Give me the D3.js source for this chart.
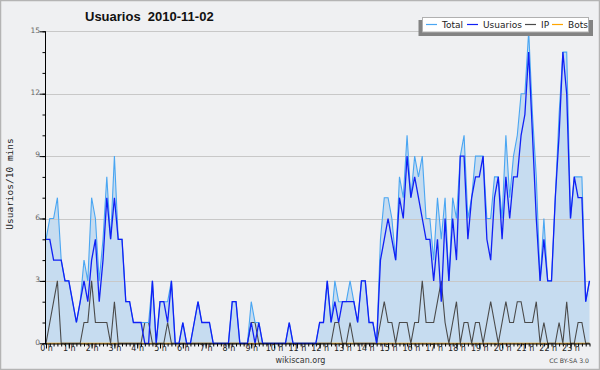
<!DOCTYPE html>
<html><head><meta charset="utf-8">
<script src="https://cdn.jsdelivr.net/npm/d3@7"></script>
<style>body{margin:0;background:#eff0f2}svg{display:block}</style>
</head><body><svg id="c" width="600" height="370"></svg>
<script>
const hourLabels = ["0 h","1 h","2 h","3 h","4 h","5 h","6 h","7 h","8 h","9 h","10 h","11 h","12 h","13 h","14 h","15 h","16 h","17 h","18 h","19 h","20 h","21 h","22 h","23 h"];
const yTickValues = [0,3,6,9,12,15];
const totalData = [5,6,6,7,4,3,3,2,1,2,4,3,7,6,3,5,8,5,9,5,5,2,2,1,1,1,1,1,3,0,2,2,2,3,0,0,1,0,0,1,2,1,1,1,0,0,0,0,0,2,2,0,0,0,2,1,1,0,0,0,0,0,0,0,1,0,0,0,0,0,0,0,1,1,3,1,3,2,2,2,3,2,1,3,3,1,1,0,5,7,7,6,4,8,7,10,7,9,8,9,6,6,4,7,5,7,3,7,6,9,10,6,7,9,9,9,6,6,8,8,6,10,7,9,10,12,12,15,11,8,3,6,3,3,7,11,14,14,6,8,8,8,2,3];
const usuariosData = [5,5,4,4,4,3,3,2,1,2,3,2,4,5,2,4,7,5,7,5,5,2,2,1,1,1,0,0,3,0,2,2,1,3,0,0,1,0,0,1,2,1,1,1,0,0,0,0,0,2,2,0,0,0,1,0,1,0,0,0,0,0,0,0,1,0,0,0,0,0,0,0,1,1,3,1,2,1,2,2,2,2,1,3,3,1,1,0,4,5,6,5,4,7,6,9,7,8,7,6,5,5,3,5,2,6,3,6,4,9,9,5,7,8,8,9,5,4,7,8,5,8,6,8,8,10,11,14,10,6,3,5,3,3,7,10,14,12,6,8,7,7,2,3];
const ipData = [0,1,2,3,0,0,0,0,0,0,1,1,3,1,1,1,1,0,2,0,0,0,0,0,0,0,1,1,0,0,0,0,1,0,0,0,0,0,0,0,0,0,0,0,0,0,0,0,0,0,0,0,0,0,1,1,0,0,0,0,0,0,0,0,0,0,0,0,0,0,0,0,0,0,0,0,1,1,0,0,1,0,0,0,0,0,0,0,1,2,1,1,0,1,1,1,0,1,1,3,1,1,1,2,3,1,0,1,2,0,1,1,0,1,1,0,1,2,1,0,1,2,1,1,2,2,1,1,1,2,0,1,0,0,0,1,0,2,0,0,1,1,0,0];
const botsData = [0,0,0,0,0,0,0,0,0,0,0,0,0,0,0,0,0,0,0,0,0,0,0,0,0,0,0,0,0,0,0,0,0,0,0,0,0,0,0,0,0,0,0,0,0,0,0,0,0,0,0,0,0,0,0,0,0,0,0,0,0,0,0,0,0,0,0,0,0,0,0,0,0,0,0,0,0,0,0,0,0,0,0,0,0,0,0,0,0,0,0,0,0,0,0,0,0,0,0,0,0,0,0,0,0,0,0,0,0,0,0,0,0,0,0,0,0,0,0,0,0,0,0,0,0,0,0,0,0,0,0,0,0,0,0,0,0,0,0,0,0,0,0,0];
const seriesNames = ["Total","Usuarios","IP","Bots"];
const seriesColors = ["#4aa6f2","#1020f5","#4a4a4a","#ffa500"];

const svg = d3.select("#c");
const W = 600, H = 370;
svg.append("rect").attr("x",0.5).attr("y",0.5).attr("width",W-1).attr("height",H-1)
  .attr("fill","#eff0f2").attr("stroke","#b4b4b4").attr("stroke-width",1.5);

const x = d3.scaleLinear().domain([0, totalData.length-1]).range([46, 589.5]);
const y = d3.scaleLinear().domain([0, 15]).range([343.3, 31.3]);

// area fill
svg.append("path").datum(totalData)
  .attr("d", d3.area().x((d,i)=>x(i)).y0(y(0)).y1(d=>y(d)))
  .attr("fill","#c6dcf0");

// gridlines
svg.append("g").selectAll("line").data(yTickValues.filter(v=>v>0)).join("line")
  .attr("x1",46).attr("x2",590).attr("y1",d=>Math.round(y(d))+0.5).attr("y2",d=>Math.round(y(d))+0.5)
  .attr("stroke","#c8c8c8").attr("stroke-width",1);

const line = d3.line().x((d,i)=>x(i)).y(d=>y(d));
const allSeries = [totalData, usuariosData, ipData, botsData];
const widths = [1.1, 1.3, 1.1, 1.1];
[3,2,0,1].forEach(k=>{
  svg.append("path").datum(allSeries[k]).attr("d", line)
    .attr("fill","none").attr("stroke", seriesColors[k]).attr("stroke-width", widths[k]);
});

// axes
const gx = svg.append("g").attr("transform","translate(0,343.5)");
gx.call(d3.axisBottom(x).tickValues(d3.range(0,totalData.length)).tickSize(3).tickSizeOuter(0).tickFormat(""));
const gx2 = svg.append("g").attr("transform","translate(0,343.5)");
gx2.call(d3.axisBottom(x).tickValues(d3.range(0,totalData.length,6)).tickSize(5).tickSizeOuter(0).tickFormat((d,i)=>hourLabels[i]));
gx2.select(".domain").remove();
gx.select(".domain").attr("d","M45,0.5H590");
[gx,gx2].forEach(g=>{ g.selectAll("line").attr("stroke","#000"); });
gx2.selectAll("text").attr("font-family","DejaVu Sans").attr("font-size","8px").attr("fill","#222").attr("dy","0.45em").attr("y",4);

const gy = svg.append("g").attr("transform","translate(45.5,0)");
gy.call(d3.axisLeft(y).tickValues(d3.range(0,16)).tickSize(3).tickSizeOuter(0).tickFormat(""));
const gy2 = svg.append("g").attr("transform","translate(45.5,0)");
gy2.call(d3.axisLeft(y).tickValues(yTickValues).tickSize(6).tickSizeOuter(0).tickFormat(d=>d));
gy2.select(".domain").remove();
gy.select(".domain").attr("d","M0,31.3V344");
[gy,gy2].forEach(g=>{ g.selectAll("line").attr("stroke","#000"); g.select(".domain").attr("stroke","#000"); });
gy2.selectAll("text").attr("font-family","DejaVu Sans").attr("font-size","7.5px").attr("fill","#666").attr("x",-5.5).attr("dy","0.1em");
gx.select(".domain").attr("stroke","#000");

// title
svg.append("text").attr("x",85).attr("y",21).attr("font-family","Liberation Sans").attr("font-weight","bold")
  .attr("font-size","13px").attr("fill","#111").attr("xml:space","preserve").style("white-space","pre")
  .text("Usuarios  2010-11-02");

// y title
svg.append("text").attr("transform","translate(13,184) rotate(-90)").attr("text-anchor","middle")
  .attr("font-family","DejaVu Sans Mono").attr("font-size","9.5px").attr("fill","#222").text("Usuarios/10 mins");

// legend
const lg = svg.append("g");
lg.append("rect").attr("x",418.5).attr("y",20).attr("width",174.5).attr("height",16).attr("fill","#838383");
lg.append("rect").attr("x",422.5).attr("y",17.5).attr("width",166).attr("height",14.5).attr("fill","#fff").attr("stroke","#b0b0b0");
const legX = [426, 467, 525, 552];
seriesNames.forEach((n,k)=>{
  lg.append("line").attr("x1",legX[k]).attr("x2",legX[k]+11).attr("y1",24.5).attr("y2",24.5)
    .attr("stroke",seriesColors[k]).attr("stroke-width",1.2);
  lg.append("text").attr("x",legX[k]+16).attr("y",28).attr("font-family","DejaVu Sans").attr("font-size","9px")
    .attr("fill","#222").text(n);
});

// footer
svg.append("text").attr("x",300.5).attr("y",363).attr("text-anchor","middle").attr("font-family","DejaVu Sans")
  .attr("font-size","8px").attr("fill","#333").text("wikiscan.org");
svg.append("text").attr("x",589).attr("y",363).attr("text-anchor","end").attr("font-family","DejaVu Sans")
  .attr("font-size","6.2px").attr("fill","#444").text("CC BY-SA 3.0");
</script></body></html>
